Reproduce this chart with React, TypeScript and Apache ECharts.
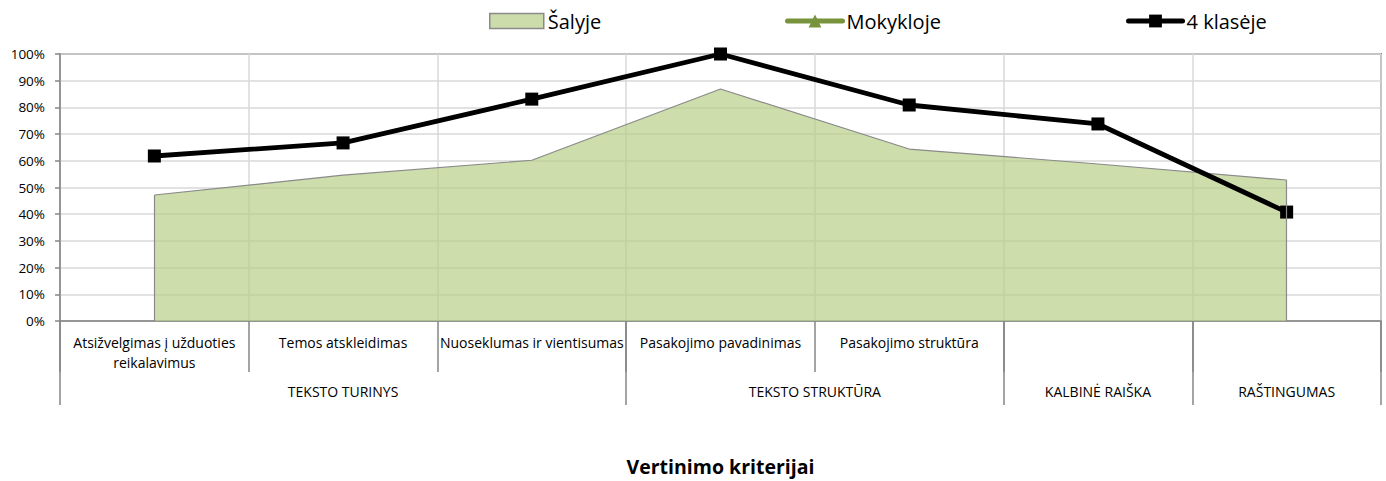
import React, { useEffect, useRef } from 'react';
import * as echarts from 'echarts';

const categories = [
  'Atsižvelgimas į užduoties reikalavimus',
  'Temos atskleidimas',
  'Nuoseklumas ir vientisumas',
  'Pasakojimo pavadinimas',
  'Pasakojimo struktūra',
  'Kalbinė raiška',
  'Raštingumas',
];
const categoryLabels = [
  'Atsižvelgimas į užduoties\nreikalavimus',
  'Temos atskleidimas',
  'Nuoseklumas ir vientisumas',
  'Pasakojimo pavadinimas',
  'Pasakojimo struktūra',
  '',
  '',
];
const groups = ['TEKSTO TURINYS', 'TEKSTO STRUKTŪRA', 'KALBINĖ RAIŠKA', 'RAŠTINGUMAS'];
const groupSizes = [3, 2, 1, 1];

const salyje = [47.2, 54.6, 60.2, 86.9, 64.4, 58.8, 52.8];
const mokykloje: number[] = [];
const klaseje = [61.8, 66.7, 83.1, 100, 80.9, 73.8, 40.8];

const yMin = 0;
const yMax = 100;
const yStep = 10;

const FONT = "'Open Sans', sans-serif";

export default function App() {
  const ref = useRef<HTMLDivElement>(null);

  useEffect(() => {
    if (!ref.current) return;
    const chart = echarts.init(ref.current, undefined, { renderer: 'svg' });

    const bounds: number[] = [0];
    groupSizes.forEach((s) => bounds.push(bounds[bounds.length - 1] + s));
    const centers = groupSizes.map((s, i) => bounds[i] + s / 2);

    const legendCommon = {
      top: 11,
      padding: 0,
      itemGap: 4,
      selectedMode: false,
      textStyle: { fontSize: 20, color: '#000', fontFamily: FONT, padding: [0, 0, 0, -1] },
    };

    const option: any = {
      animation: false,
      textStyle: { fontFamily: FONT },
      grid: {
        left: 60,
        right: 5,
        top: 54,
        bottom: 160,
        show: true,
        borderColor: '#868686',
        borderWidth: 2,
        containLabel: false,
        outerBoundsMode: 'none',
      },
      legend: [
        {
          ...legendCommon,
          data: [
            {
              name: 'Šalyje',
              icon: 'rect',
              itemStyle: { color: '#cddcab', borderColor: '#8a8a8a', borderWidth: 1.5 },
            },
          ],
          left: 489,
          itemWidth: 54,
          itemHeight: 15,
        },
        {
          ...legendCommon,
          data: [
            {
              name: 'Mokykloje',
              lineStyle: { width: 5, cap: 'round', color: '#77933c' },
            },
          ],
          left: 785,
          itemWidth: 55,
          itemHeight: 16,
        },
        {
          ...legendCommon,
          data: [
            {
              name: '4 klasėje',
              lineStyle: { width: 5, cap: 'round', color: '#000' },
            },
          ],
          left: 1126,
          itemWidth: 54,
          itemHeight: 16,
        },
      ],
      xAxis: [
        {
          type: 'category',
          data: categories,
          boundaryGap: true,
          position: 'bottom',
          axisLine: { show: true, lineStyle: { color: '#868686', width: 1.5 } },
          axisTick: { show: true, interval: 0, length: 51, lineStyle: { color: '#868686', width: 1.5 } },
          axisLabel: {
            interval: 0,
            margin: 11,
            fontSize: 14,
            lineHeight: 20,
            color: '#000',
            fontFamily: FONT,
            formatter: (_v: string, idx: number) => categoryLabels[idx],
          },
          splitLine: { show: true, interval: 0, lineStyle: { color: '#d9d9d9', width: 1.5 } },
        },
        {
          type: 'value',
          min: 0,
          max: categories.length,
          position: 'bottom',
          axisLine: { show: false },
          axisTick: {
            show: true,
            length: 84,
            customValues: bounds,
            lineStyle: { color: '#868686', width: 1.5 },
          },
          axisLabel: {
            show: true,
            margin: 63,
            fontSize: 14,
            color: '#000',
            fontFamily: FONT,
            customValues: centers,
            formatter: (v: number) => {
              const i = centers.findIndex((c) => Math.abs(c - v) < 1e-6);
              return i >= 0 ? groups[i] : '';
            },
          },
          splitLine: { show: false },
          name: 'Vertinimo kriterijai',
          nameLocation: 'middle',
          nameGap: 135,
          nameTextStyle: { fontSize: 19.5, fontWeight: 'bold', color: '#000', fontFamily: FONT },
        },
      ],
      yAxis: {
        type: 'value',
        min: yMin,
        max: yMax,
        interval: yStep,
        axisLine: { show: true, lineStyle: { color: '#868686', width: 1.5 } },
        axisTick: { show: true, length: 5, lineStyle: { color: '#868686', width: 1.5 } },
        axisLabel: { formatter: '{value}%', margin: 15, fontSize: 13.5, color: '#000', fontFamily: FONT },
        splitLine: { show: true, lineStyle: { color: '#d9d9d9', width: 1.5 } },
      },
      series: [
        {
          name: 'Šalyje',
          type: 'line',
          xAxisIndex: 0,
          data: salyje,
          symbol: 'none',
          z: 2,
          itemStyle: { color: '#cddcab' },
          lineStyle: { color: '#8a8a8a', width: 1.2 },
          areaStyle: { color: 'rgb(184,206,135)', opacity: 0.7 },
          markLine: {
            silent: true,
            symbol: ['none', 'none'],
            label: { show: false },
            lineStyle: { color: '#8a8a8a', width: 1.2, type: 'solid' },
            emphasis: { disabled: true },
            data: [
              [
                { coord: [categories[0], 0] },
                { coord: [categories[0], salyje[0]] },
              ],
              [
                { coord: [categories[categories.length - 1], 0] },
                { coord: [categories[categories.length - 1], salyje[salyje.length - 1]] },
              ],
            ],
          },
        },
        {
          name: 'Mokykloje',
          type: 'line',
          xAxisIndex: 0,
          data: mokykloje,
          symbol: 'triangle',
          symbolSize: 11,
          itemStyle: { color: '#77933c' },
          lineStyle: { color: '#77933c', width: 4 },
        },
        {
          name: '4 klasėje',
          type: 'line',
          xAxisIndex: 0,
          data: klaseje,
          symbol: 'rect',
          symbolSize: 13,
          z: 4,
          itemStyle: { color: '#000' },
          lineStyle: { color: '#000', width: 4.8 },
        },
      ],
    };

    chart.setOption(option);
    return () => chart.dispose();
  }, []);

  return (
    <div
      ref={ref}
      style={{ position: 'absolute', left: 0, top: 0, width: 1386, height: 481 }}
    />
  );
}
